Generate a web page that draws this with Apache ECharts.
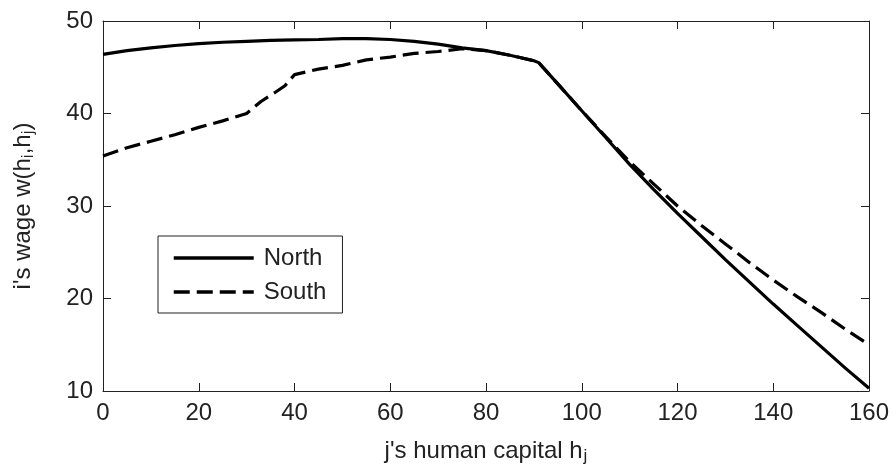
<!DOCTYPE html>
<html>
<head>
<meta charset="utf-8">
<script src="https://cdn.jsdelivr.net/npm/echarts@6/dist/echarts.min.js"></script>
<style>html,body{margin:0;padding:0;background:#fff;}#c{width:896px;height:472px;}</style>
</head>
<body>
<div id="c"></div>
<script>
var xTicks = [0, 20, 40, 60, 80, 100, 120, 140, 160];
var yTicks = [10, 20, 30, 40, 50];
var seriesNames = ['North', 'South'];
var northX = [0,5,10,15,20,25,30,35,40,45,50,55,60,65,70,75,80,85,90,91,95,100,105,110,115,120,125,130,135,140,145,150,155,160];
var northY = [46.4,46.8,47.1,47.35,47.55,47.7,47.8,47.9,47.95,48.0,48.1,48.1,48.0,47.8,47.5,47.1,46.8,46.3,45.7,45.5,43.2,40.3,37.4,34.5,31.8,29.2,26.7,24.2,21.8,19.4,17.1,14.8,12.5,10.3];
var southX = [0,5,10,15,20,25,30,33,36,38,40,45,50,55,60,65,70,75,80,85,90,91,95,100,105,110,115,120,125,130,135,140,145,150,155,160];
var southY = [35.4,36.3,37.0,37.7,38.5,39.2,40.0,41.3,42.3,43.0,44.2,44.8,45.2,45.8,46.1,46.5,46.7,47.0,46.8,46.3,45.7,45.5,43.2,40.3,37.5,34.8,32.4,30.0,27.9,25.9,23.9,22.0,20.2,18.5,16.7,15.0];

function pairs(xs, ys) { return xs.map(function (x, i) { return [x, ys[i]]; }); }

var FONT = 'Liberation Sans, Arial, sans-serif';
var TXT = '#222';
var chart = echarts.init(document.getElementById('c'), null, {renderer: 'canvas'});
var axisCommon = {
  axisLine: {show: true, onZero: false, lineStyle: {color: '#222', width: 1}},
  axisTick: {show: true, inside: true, length: 8, lineStyle: {color: '#222', width: 1}},
  splitLine: {show: false}
};
chart.setOption({
  animation: false,
  backgroundColor: '#fff',
  grid: {left: 103, right: 27, top: 21, bottom: 81, show: false},
  legend: {
    data: seriesNames,
    orient: 'vertical',
    left: 158, top: 236,
    itemWidth: 80, itemHeight: 6, itemGap: 10,
    padding: [10, 16, 9, 14],
    borderColor: '#222', borderWidth: 1, backgroundColor: '#fff',
    itemStyle: {opacity: 0},
    lineStyle: {width: 3.5},
    textStyle: {fontFamily: FONT, fontSize: 24, color: TXT, padding: [0, 0, 0, 5]}
  },
  xAxis: [
    Object.assign({
      type: 'value', min: 0, max: 160, interval: 20, position: 'bottom',
      name: '{t|j\'s human capital h}{s|j}', nameLocation: 'middle', nameGap: 46,
      nameTextStyle: {fontFamily: FONT, fontSize: 24, color: TXT,
        rich: {t: {fontFamily: FONT, fontSize: 24, color: TXT, verticalAlign: 'top', lineHeight: 26},
               s: {fontFamily: FONT, fontSize: 17, color: TXT, verticalAlign: 'bottom', lineHeight: 26, padding: [18, 0, 0, 1]}}},
      axisLabel: {fontFamily: FONT, fontSize: 24, color: TXT, margin: 10,
        formatter: function (v) { return xTicks.indexOf(v) >= 0 ? String(v) : ''; }}
    }, axisCommon),
    Object.assign({
      type: 'value', min: 0, max: 160, interval: 20, position: 'top',
      axisLabel: {show: false}
    }, axisCommon)
  ],
  yAxis: [
    Object.assign({
      type: 'value', min: 10, max: 50, interval: 10, position: 'left',
      name: '{t|i\'s wage w(h}{s|i}{t|,h}{s|j}{t|)}', nameLocation: 'middle', nameGap: 66, nameRotate: 90,
      nameTextStyle: {fontFamily: FONT, fontSize: 24, color: TXT,
        rich: {t: {fontFamily: FONT, fontSize: 24, color: TXT, verticalAlign: 'top', lineHeight: 26},
               s: {fontFamily: FONT, fontSize: 17, color: TXT, verticalAlign: 'bottom', lineHeight: 26, padding: [12, 0, 0, 0]}}},
      axisLabel: {fontFamily: FONT, fontSize: 24, color: TXT, margin: 10,
        formatter: function (v) { return yTicks.indexOf(v) >= 0 ? String(v) : ''; }}
    }, axisCommon),
    Object.assign({
      type: 'value', min: 10, max: 50, interval: 10, position: 'right',
      axisLabel: {show: false}
    }, axisCommon)
  ],
  series: [
    {name: seriesNames[0], type: 'line', data: pairs(northX, northY), showSymbol: false, symbol: 'none', smooth: false,
     lineStyle: {color: '#000', width: 3.2, type: 'solid'}, itemStyle: {color: '#000'}, z: 3},
    {name: seriesNames[1], type: 'line', data: pairs(southX, southY), showSymbol: false, symbol: 'none', smooth: false,
     lineStyle: {color: '#000', width: 3.2, type: [16, 7]}, itemStyle: {color: '#000'}, z: 4}
  ]
});
</script>
</body>
</html>
